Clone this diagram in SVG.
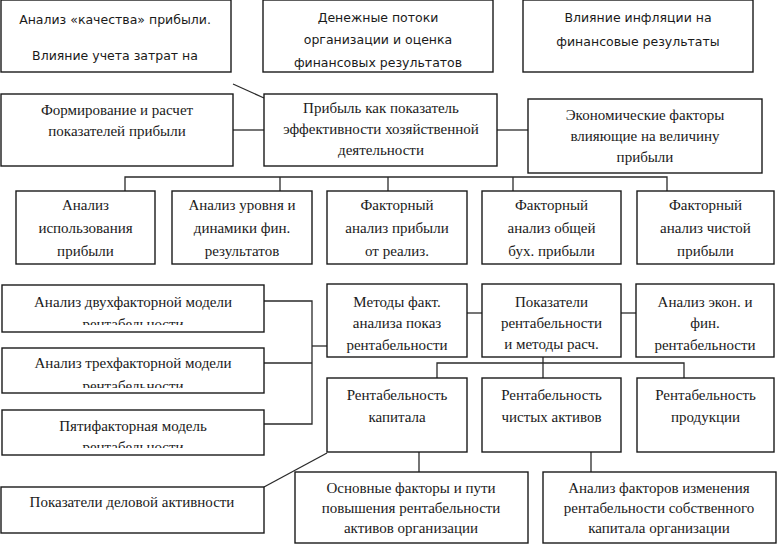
<svg xmlns="http://www.w3.org/2000/svg" width="777" height="544" viewBox="0 0 777 544">
<style>
.b{fill:#fff;stroke:#1a1a1a;stroke-width:1.4}
.c{fill:none;stroke:#2a2a2a;stroke-width:1.3}
.s{font-family:'DejaVu Sans',Verdana,sans-serif;font-size:12.5px;fill:#1a1a1a;text-anchor:middle}
.t{font-family:'Liberation Serif','Times New Roman',serif;font-size:15px;fill:#1a1a1a;text-anchor:middle}
</style>
<defs>
<clipPath id="cl1"><rect x="0" y="0" width="777" height="325"/></clipPath>
<clipPath id="cl2"><rect x="0" y="0" width="777" height="388"/></clipPath>
<clipPath id="cl3"><rect x="0" y="0" width="777" height="448"/></clipPath>
<clipPath id="clA"><rect x="0" y="0" width="777" height="70"/></clipPath>
</defs>
<rect width="777" height="544" fill="#fff"/>
<g id="connectors">
<line class="c" x1="233" y1="84" x2="264" y2="98"/>
<line class="c" x1="233" y1="130" x2="264" y2="130"/>
<line class="c" x1="497" y1="130" x2="528" y2="130"/>
<polyline class="c" points="125,191 125,177 667,177 667,191"/>
<line class="c" x1="280" y1="177" x2="280" y2="191"/>
<line class="c" x1="388" y1="177" x2="388" y2="191"/>
<line class="c" x1="513" y1="177" x2="513" y2="191"/>
<polyline class="c" points="264,301 312,301 312,424 264,424"/>
<line class="c" x1="264" y1="363" x2="312" y2="363"/>
<line class="c" x1="312" y1="346" x2="327" y2="346"/>
<line class="c" x1="467" y1="313" x2="482" y2="313"/>
<line class="c" x1="621" y1="313" x2="636" y2="313"/>
<line class="c" x1="543" y1="357" x2="543" y2="378"/>
<polyline class="c" points="437,378 437,363 684,363 684,378"/>
<line class="c" x1="419" y1="452" x2="419" y2="472"/>
<line class="c" x1="591" y1="452" x2="591" y2="472"/>
<line class="c" x1="327" y1="453" x2="264" y2="487"/>
</g>
<g id="n1"><rect class="b" x="1" y="0" width="230" height="72"/>
<text class="s" x="115" y="24">Анализ «качества» прибыли.</text>
<text class="s" x="115" y="60">Влияние учета затрат на</text></g>
<g id="n2"><rect class="b" x="263" y="0" width="230" height="72"/>
<g clip-path="url(#clA)"><text class="s" x="378" y="22">Денежные потоки</text>
<text class="s" x="378" y="44">организации и оценка</text>
<text class="s" x="378" y="67">финансовых результатов</text></g></g>
<g id="n3"><rect class="b" x="523" y="0" width="230" height="72"/>
<text class="s" x="638" y="22">Влияние инфляции на</text>
<text class="s" x="638" y="46">финансовые результаты</text></g>
<g id="n4"><rect class="b" x="1" y="94" width="232" height="72"/>
<text class="t" x="117" y="115">Формирование и расчет</text>
<text class="t" x="117" y="136">показателей прибыли</text></g>
<g id="n5"><rect class="b" x="264" y="94" width="233" height="72"/>
<text class="t" x="381" y="113">Прибыль как показатель</text>
<text class="t" x="381" y="134">эффективности хозяйственной</text>
<text class="t" x="381" y="155">деятельности</text></g>
<g id="n6"><rect class="b" x="528" y="99" width="234" height="74"/>
<text class="t" x="645" y="120">Экономические факторы</text>
<text class="t" x="645" y="141">влияющие на величину</text>
<text class="t" x="645" y="162">прибыли</text></g>
<g id="n7"><rect class="b" x="16" y="191" width="139" height="73"/>
<text class="t" x="85.5" y="210">Анализ</text>
<text class="t" x="85.5" y="233">использования</text>
<text class="t" x="85.5" y="256">прибыли</text></g>
<g id="n8"><rect class="b" x="172" y="191" width="140" height="73"/>
<text class="t" x="242" y="210">Анализ уровня и</text>
<text class="t" x="242" y="233">динамики фин.</text>
<text class="t" x="242" y="256">результатов</text></g>
<g id="n9"><rect class="b" x="327" y="191" width="140" height="73"/>
<text class="t" x="397" y="210">Факторный</text>
<text class="t" x="397" y="233">анализ прибыли</text>
<text class="t" x="397" y="256">от реализ.</text></g>
<g id="n10"><rect class="b" x="482" y="191" width="139" height="73"/>
<text class="t" x="551.5" y="210">Факторный</text>
<text class="t" x="551.5" y="233">анализ общей</text>
<text class="t" x="551.5" y="256">бух. прибыли</text></g>
<g id="n11"><rect class="b" x="637" y="191" width="137" height="73"/>
<text class="t" x="705.5" y="210">Факторный</text>
<text class="t" x="705.5" y="233">анализ чистой</text>
<text class="t" x="705.5" y="256">прибыли</text></g>
<g id="n12"><rect class="b" x="2" y="285" width="262" height="47"/>
<text class="t" x="133" y="307">Анализ двухфакторной модели</text>
<text class="t" x="133" y="329" clip-path="url(#cl1)">рентабельности</text></g>
<g id="n13"><rect class="b" x="2" y="348" width="262" height="45"/>
<text class="t" x="133" y="368">Анализ трехфакторной модели</text>
<text class="t" x="133" y="391" clip-path="url(#cl2)">рентабельности</text></g>
<g id="n14"><rect class="b" x="2" y="410" width="262" height="45"/>
<text class="t" x="133" y="431">Пятифакторная модель</text>
<text class="t" x="133" y="452" clip-path="url(#cl3)">рентабельности</text></g>
<g id="n15"><rect class="b" x="327" y="284" width="140" height="73"/>
<text class="t" x="397" y="307">Методы факт.</text>
<text class="t" x="397" y="328">анализа показ</text>
<text class="t" x="397" y="350">рентабельности</text></g>
<g id="n16"><rect class="b" x="482" y="284" width="139" height="73"/>
<text class="t" x="551.5" y="307">Показатели</text>
<text class="t" x="551.5" y="328">рентабельности</text>
<text class="t" x="551.5" y="349">и методы расч.</text></g>
<g id="n17"><rect class="b" x="636" y="284" width="138" height="73"/>
<text class="t" x="705" y="307">Анализ экон. и</text>
<text class="t" x="705" y="328">фин.</text>
<text class="t" x="705" y="350">рентабельности</text></g>
<g id="n18"><rect class="b" x="327" y="378" width="140" height="74"/>
<text class="t" x="397" y="400">Рентабельность</text>
<text class="t" x="397" y="422">капитала</text></g>
<g id="n19"><rect class="b" x="482" y="378" width="139" height="74"/>
<text class="t" x="551.5" y="400">Рентабельность</text>
<text class="t" x="551.5" y="422">чистых активов</text></g>
<g id="n20"><rect class="b" x="637" y="378" width="137" height="74"/>
<text class="t" x="705.5" y="400">Рентабельность</text>
<text class="t" x="705.5" y="422">продукции</text></g>
<g id="n21"><rect class="b" x="1" y="487" width="263" height="46"/>
<text class="t" x="132" y="507">Показатели деловой активности</text></g>
<g id="n22"><rect class="b" x="295" y="472" width="233" height="71"/>
<text class="t" x="411" y="493">Основные факторы и пути</text>
<text class="t" x="411" y="513">повышения рентабельности</text>
<text class="t" x="411" y="533">активов организации</text></g>
<g id="n23"><rect class="b" x="543" y="472" width="233" height="71"/>
<text class="t" x="659" y="493">Анализ факторов изменения</text>
<text class="t" x="659" y="513">рентабельности  собственного</text>
<text class="t" x="659" y="533">капитала организации</text></g>
</svg>
